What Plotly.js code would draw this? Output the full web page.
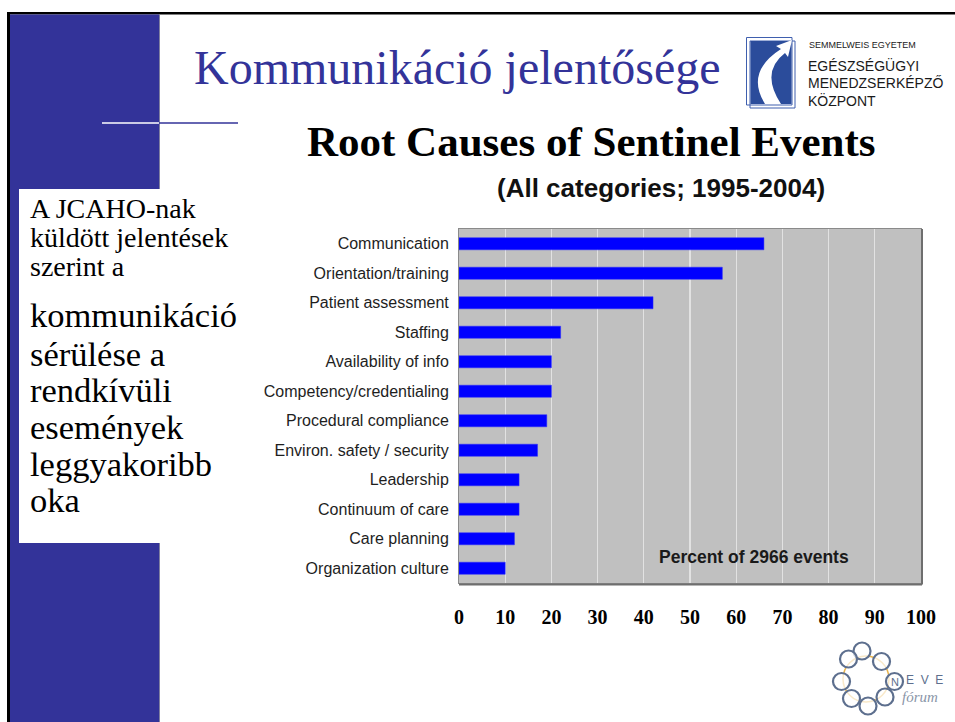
<!DOCTYPE html>
<html>
<head>
<meta charset="utf-8">
<script src="https://cdn.plot.ly/plotly-3.0.1.min.js"></script>
<style>
html,body{margin:0;padding:0;background:#fff;}
#chart{width:955px;height:722px;}
</style>
</head>
<body>
<div id="chart"></div>
<script>
// ---- data ----
var categories = ['Communication','Orientation/training','Patient assessment','Staffing','Availability of info','Competency/credentialing','Procedural compliance','Environ. safety / security','Leadership','Continuum of care','Care planning','Organization culture'];
var percents = [66,57,42,22,20,20,19,17,13,13,12,10];
var xTicks = [0,10,20,30,40,50,60,70,80,90,100];
var slideTitle = 'Kommunikáció jelentősége';
var chartTitle = 'Root Causes of Sentinel Events';
var chartSubtitle = '(All categories; 1995-2004)';
var noteText = 'Percent of 2966 events';
var leftSmall = ['A JCAHO-nak','küldött jelentések','szerint a'];
var leftLarge = ['kommunikáció','sérülése a','rendkívüli','események','leggyakoribb','oka'];
var logoLines = ['SEMMELWEIS EGYETEM','EGÉSZSÉGÜGYI','MENEDZSERKÉPZŐ','KÖZPONT'];

// ---- helpers (pixel -> paper) ----
var W = 955, H = 722;
function X(p){return p/W;}
function Y(p){return 1-p/H;}
function rect(x0,y0,x1,y1,fill,line,lw,layer){
  return {type:'rect',xref:'paper',yref:'paper',x0:X(x0),x1:X(x1),y0:Y(y0),y1:Y(y1),
    fillcolor:fill||'rgba(0,0,0,0)',line:{color:line||'rgba(0,0,0,0)',width:lw||0},layer:layer||'above'};
}
function seg(x0,y0,x1,y1,color,w){
  return {type:'line',xref:'paper',yref:'paper',x0:X(x0),x1:X(x1),y0:Y(y0),y1:Y(y1),line:{color:color,width:w}};
}
function circ(cx,cy,r,color,w,fill){
  return {type:'circle',xref:'paper',yref:'paper',x0:X(cx-r),x1:X(cx+r),y0:Y(cy+r),y1:Y(cy-r),
    line:{color:color,width:w},fillcolor:fill||'rgba(0,0,0,0)'};
}
function pathP(pts){
  var s='';
  pts.forEach(function(p){
    if(typeof p==='string'){s+=p+' ';}
    else {s+=X(p[0]).toFixed(5)+','+Y(p[1]).toFixed(5)+' ';}
  });
  return s;
}
function ann(text,x,y,font,xanchor){
  return {text:text,x:X(x),y:Y(y),xref:'paper',yref:'paper',showarrow:false,
    xanchor:xanchor||'left',yanchor:'middle',font:font,borderpad:0};
}

var serif = 'Liberation Serif, Times New Roman, serif';
var sans = 'Liberation Sans, Arial, sans-serif';

var shapes = [];
// slide frame
shapes.push(rect(7,12,955,14.5,'#000000'));
shapes.push(rect(7,12,10,722,'#000000'));
shapes.push(rect(10,14.5,159,722,'#333399'));
shapes.push(seg(159.5,14.5,159.5,722,'#8080a0',1));
shapes.push(rect(19,189,160,543,'#ffffff'));
shapes.push(seg(102,123,159,123,'#ffffff',1.5));
shapes.push(seg(159,123,238,123,'#333399',1.5));

// Semmelweis logo
shapes.push(rect(750,41,795,108,'rgba(0,0,0,0)','#3f5fae',1));
shapes.push(rect(746.5,37.5,792,105,'rgba(0,0,0,0)','#3f5fae',1));
shapes.push(rect(750.5,41,791.5,104,'#2b4c9b'));
shapes.push({type:'path',xref:'paper',yref:'paper',
  path:pathP(['M',[765,104],'Q',[745,72],[781,49],'L',[776,46],'L',[792,40],'L',[788,57],'L',[785,53],'Q',[760,72],[781,104],'Z']),
  fillcolor:'#ffffff',line:{width:0}});

// plot frame shadow
shapes.push(seg(922,229,922,584.5,'#6e6e6e',2));
shapes.push(seg(459,584.5,922,584.5,'#6e6e6e',2));

// NEVE forum logo
var ringC = [[862,651],[848.5,659],[841.5,681.5],[851.5,698.5],[868,706],[885,697],[894.5,681.5],[881.5,661.5]];
shapes.push(circ(866,679,23,'#e9b44c',1.5));
ringC.forEach(function(c){ shapes.push(circ(c[0],c[1],8.5,'#5d6f8e',2.2,'rgba(255,255,255,0.7)')); });

var annotations = [];
annotations.push(ann(slideTitle,193,67.8,{family:serif,size:48,color:'#333399'}));
annotations.push(ann(chartTitle,591,141,{family:serif,size:43,color:'#000000',weight:'bold'},'center'));
annotations.push(ann(chartSubtitle,661,188,{family:sans,size:26,color:'#111111',weight:'bold'},'center'));
annotations.push(ann(noteText,754,557,{family:sans,size:17.5,color:'#1a1a1a',weight:'bold'},'center'));
var smallY = [208.5,237.2,266];
leftSmall.forEach(function(t,i){ annotations.push(ann(t,29,smallY[i],{family:serif,size:28,color:'#000000'})); });
var largeY = [315.2,353.5,390.2,426.5,463.5,500.2];
leftLarge.forEach(function(t,i){ annotations.push(ann(t,28.5,largeY[i],{family:serif,size:34.5,color:'#000000'})); });
// logo text
annotations.push(ann(logoLines[0],808,45,{family:sans,size:9,color:'#222222'}));
annotations.push(ann(logoLines[1],807,65.5,{family:sans,size:14,color:'#1a1a1a'}));
annotations.push(ann(logoLines[2],807,83,{family:sans,size:14,color:'#1a1a1a'}));
annotations.push(ann(logoLines[3],807,100,{family:sans,size:14,color:'#1a1a1a'}));
// NEVE text
annotations.push(ann('N',894.5,681.5,{family:sans,size:11,color:'#5d6f8e'},'center'));
annotations.push(ann('E  V  E',905,680,{family:sans,size:12,color:'#5d6f8e'}));
annotations.push(ann('fórum',901,697,{family:serif,size:15,color:'#8a95a8',style:'italic'}));

var trace = {
  type:'bar', orientation:'h',
  x: percents, y: categories,
  marker:{color:'#0000ff',line:{color:'#2a2aff',width:0.5}},
  hoverinfo:'none'
};

var layout = {
  width:W, height:H,
  margin:{l:0,r:0,t:0,b:0,pad:0},
  paper_bgcolor:'#ffffff', plot_bgcolor:'#c0c0c0',
  showlegend:false,
  bargap:0.59,
  xaxis:{domain:[X(459),X(921)], range:[0,100], tickvals:xTicks, ticks:'',
    showgrid:true, gridcolor:'#e2e2e2', gridwidth:1.4, zeroline:false,
    showline:true, linecolor:'#8a8a8a', linewidth:1, mirror:true,
    tickfont:{family:serif,size:20,color:'#000000',weight:'bold'},
    ticklabelstandoff:16, fixedrange:true},
  yaxis:{domain:[Y(583),Y(229)], type:'category', autorange:'reversed', ticks:'',
    showgrid:false, zeroline:false,
    showline:true, linecolor:'#8a8a8a', linewidth:1, mirror:true,
    tickfont:{family:sans,size:16,color:'#1e1e1e'},
    ticklabelstandoff:6, fixedrange:true},
  shapes:shapes,
  annotations:annotations
};

Plotly.newPlot('chart',[trace],layout,{displayModeBar:false,staticPlot:true});
</script>
</body>
</html>
